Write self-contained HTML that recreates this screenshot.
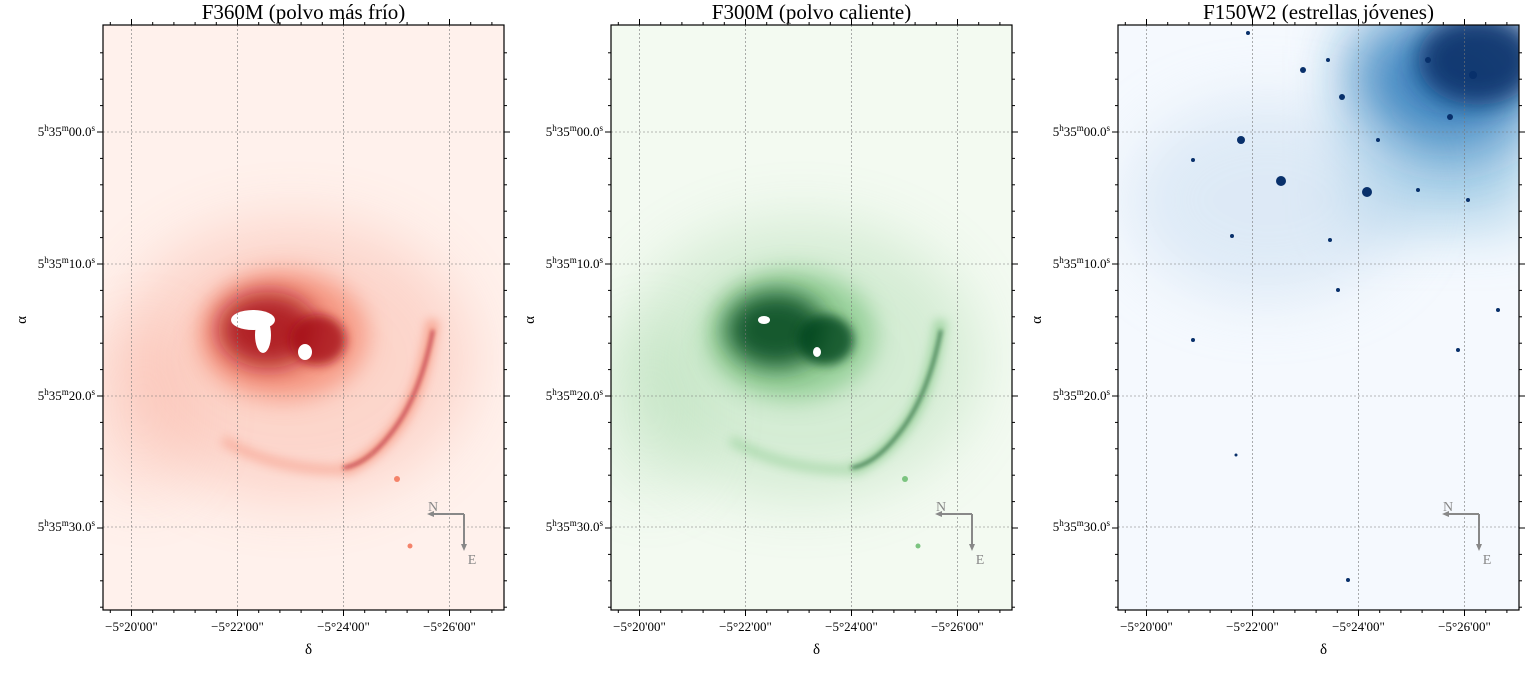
<!DOCTYPE html>
<html><head><meta charset="utf-8">
<style>
body{margin:0;background:#fff;width:1529px;height:669px;overflow:hidden;font-family:"Liberation Serif",serif;}
svg text{font-family:"Liberation Serif",serif;}
</style></head>
<body>
<svg id="fig" width="1529" height="669" xmlns="http://www.w3.org/2000/svg">
<defs>
<filter id="b30" x="-50%" y="-50%" width="200%" height="200%"><feGaussianBlur stdDeviation="30"/></filter>
<filter id="b12" x="-50%" y="-50%" width="200%" height="200%"><feGaussianBlur stdDeviation="12"/></filter>
<filter id="b5" x="-50%" y="-50%" width="200%" height="200%"><feGaussianBlur stdDeviation="5"/></filter>
<filter id="b2" x="-50%" y="-50%" width="200%" height="200%"><feGaussianBlur stdDeviation="2"/></filter>
<clipPath id="clip0"><rect x="103" y="25" width="401" height="585"/></clipPath>
<clipPath id="clip1"><rect x="611" y="25" width="401" height="585"/></clipPath>
<clipPath id="clip2"><rect x="1118" y="25" width="401" height="585"/></clipPath>
</defs>
</svg>
<script>
const titles=["F360M (polvo más frío)","F300M (polvo caliente)","F150W2 (estrellas jóvenes)"];
const xTickLabels=["\u22125°20'00\"","\u22125°22'00\"","\u22125°24'00\"","\u22125°26'00\""];
const yTickLabels=["00.0","10.0","20.0","30.0"];
const panelLeft=[103,611,1118];
const bgColors=["#fff1ec","#f3faf1","#f5f9fe"];
const midColors=["#f4836a","#7cc480","#6baed6"];
const darkColors=["#a50f15","#00441b","#08306b"];
const W=401,T=25,H=585;
const NS="http://www.w3.org/2000/svg";
const svg=document.getElementById('fig');
function el(tag,attrs,parent){const e=document.createElementNS(NS,tag);for(const k in attrs)e.setAttribute(k,attrs[k]);(parent||svg).appendChild(e);return e;}
const xGrid=[28.5,134.5,240.5,346.5];
const yGrid=[107,239,371,502];
for(let p=0;p<3;p++){
  const L=panelLeft[p];
  const g=el('g',{'clip-path':'url(#clip'+p+')'});
  
  
  el('rect',{x:L,y:T,width:W,height:H,fill:bgColors[p]},g);
  if(p<2){
    const d=darkColors[p],m=midColors[p];
    el('ellipse',{cx:L+190,cy:360,rx:180,ry:140,fill:m,opacity:0.25,filter:'url(#b30)'},g);
    el('ellipse',{cx:L+40,cy:410,rx:60,ry:90,fill:m,opacity:0.15,filter:'url(#b30)'},g);
    el('ellipse',{cx:L+180,cy:335,rx:85,ry:65,fill:m,opacity:0.7,filter:'url(#b12)'},g);
    el('ellipse',{cx:L+165,cy:330,rx:50,ry:38,fill:d,opacity:0.85,filter:'url(#b12)'},g);
    el('ellipse',{cx:L+215,cy:340,rx:28,ry:25,fill:d,opacity:0.8,filter:'url(#b5)'},g);
    el('path',{d:`M${L+330} 320 Q${L+320} 390 ${L+295} 425 T${L+240} 470`,stroke:m,'stroke-width':12,fill:'none',opacity:0.6,filter:'url(#b5)'},g);
    el('path',{d:`M${L+330} 330 Q${L+318} 392 ${L+292} 428 T${L+240} 468`,stroke:d,'stroke-width':2.5,fill:'none',opacity:0.8,filter:'url(#b2)'},g);
    el('path',{d:`M${L+120} 440 Q${L+170} 470 ${L+240} 470`,stroke:m,'stroke-width':9,fill:'none',opacity:0.45,filter:'url(#b5)'},g);
    const wc='#ffffff';
    if(p===0){
      el('ellipse',{cx:L+150,cy:320,rx:22,ry:10,fill:wc},g);
      el('ellipse',{cx:L+160,cy:335,rx:8,ry:18,fill:wc},g);
      el('ellipse',{cx:L+202,cy:352,rx:7,ry:8,fill:wc},g);
    } else {
      el('ellipse',{cx:L+153,cy:320,rx:6,ry:4,fill:wc},g);
      el('ellipse',{cx:L+206,cy:352,rx:4,ry:5,fill:wc},g);
    }
    el('circle',{cx:L+294,cy:479,r:3,fill:m},g);
    el('circle',{cx:L+307,cy:546,r:2.5,fill:m},g);
  } else {
    el('rect',{x:L+230,y:T,width:180,height:200,fill:midColors[2],opacity:0.5,filter:'url(#b30)'},g);
    el('ellipse',{cx:L+330,cy:80,rx:90,ry:70,fill:'#2171b5',opacity:0.8,filter:'url(#b30)'},g);
    el('ellipse',{cx:L+360,cy:60,rx:60,ry:45,fill:darkColors[2],opacity:0.9,filter:'url(#b12)'},g);
    el('ellipse',{cx:L+150,cy:200,rx:140,ry:100,fill:'#c6dbef',opacity:0.5,filter:'url(#b30)'},g);
    const stars=[[123,140,4],[163,181,5],[249,192,5],[224,97,3],[332,117,3],[185,70,3],[130,33,2],[355,75,4],[310,60,3],[114,236,2],[212,240,2],[300,190,2],[75,160,2],[210,60,2],[260,140,2],[350,200,2],[380,310,2],[340,350,2],[220,290,2],[230,580,2],[118,455,1.5],[75,340,2]];
    stars.forEach(s=>{el('circle',{cx:L+s[0],cy:s[1],r:s[2],fill:darkColors[2]},g);});
  }
  xGrid.forEach(x=>el('line',{x1:L+x,y1:T,x2:L+x,y2:T+H,stroke:'#777','stroke-width':0.6,'stroke-dasharray':'2,2'},svg));
  yGrid.forEach(y=>el('line',{x1:L,y1:T+y,x2:L+W,y2:T+y,stroke:'#777','stroke-width':0.6,'stroke-dasharray':'2,2'},svg));
  const fr=el('rect',{x:L,y:T,width:W,height:H,fill:'none',stroke:'#000','stroke-width':1.2});
  
  
  for(let x=xGrid[0]-3*21.2;x<W;x+=21.2){if(x<2)continue;const maj=xGrid.some(v=>Math.abs(v-x)<3);const len=maj?6:3;
    el('line',{x1:L+x,y1:T+H,x2:L+x,y2:T+H+len,stroke:'#000'});el('line',{x1:L+x,y1:T,x2:L+x,y2:T-len,stroke:'#000'});}
  for(let y=yGrid[0]-4*26.4;y<H;y+=26.4){if(y<2)continue;const maj=yGrid.some(v=>Math.abs(v-y)<3);const len=maj?6:3;
    el('line',{x1:L,y1:T+y,x2:L-len,y2:T+y,stroke:'#000'});el('line',{x1:L+W,y1:T+y,x2:L+W+len,y2:T+y,stroke:'#000'});}
  xTickLabels.forEach((t,i)=>{const tx=el('text',{x:L+xGrid[i],y:T+H+21,'font-size':13,'text-anchor':'middle'});tx.textContent=t;
    });
  yTickLabels.forEach((t,i)=>{const tx=el('text',{x:L-8,y:T+yGrid[i]+4,'font-size':13,'text-anchor':'end'});
    tx.innerHTML='5<tspan dy="-5" font-size="9">h</tspan><tspan dy="5">35</tspan><tspan dy="-5" font-size="9">m</tspan><tspan dy="5">'+t+'</tspan><tspan dy="-5" font-size="9">s</tspan>';
    });
  const xt=el('text',{x:L+W/2+5,y:654,'font-size':15,'text-anchor':'middle'});xt.textContent='δ';
  
  const yt=el('text',{x:0,y:0,'font-size':15,'text-anchor':'middle',transform:`translate(${L-77},${T+295}) rotate(-90)`});yt.textContent='α';
  
  const tt=el('text',{x:L+W/2,y:19,'font-size':21,'text-anchor':'middle'});tt.textContent=titles[p];
  
  const cg=el('g',{stroke:'#888',fill:'#888'});
  
  el('path',{d:`M${L+361} 514 L${L+331} 514`,'stroke-width':2,fill:'none'},cg);
  el('path',{d:`M${L+361} 514 L${L+361} 544`,'stroke-width':2,fill:'none'},cg);
  el('path',{d:`M${L+324} 514 l7 -3 v6z`,stroke:'none'},cg);
  el('path',{d:`M${L+361} 551 l-3 -7 h6z`,stroke:'none'},cg);
  const n=el('text',{x:L+330,y:511,'font-size':14,'text-anchor':'middle',fill:'#888',stroke:'none'},cg);n.textContent='N';
  const e=el('text',{x:L+369,y:564,'font-size':14,'text-anchor':'middle',fill:'#888',stroke:'none'},cg);e.textContent='E';
}
</script>
</body></html>
